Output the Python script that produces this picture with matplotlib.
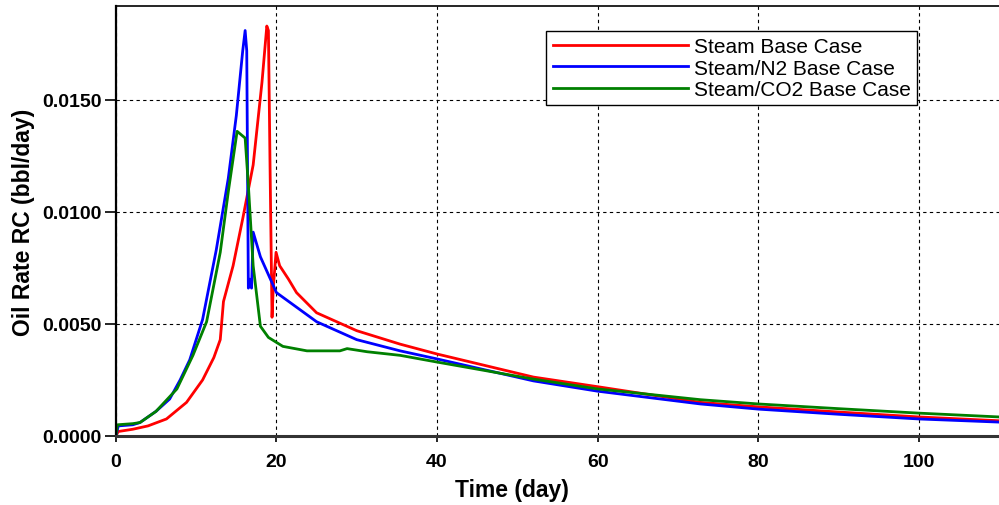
import matplotlib
matplotlib.use("Agg")
import matplotlib.pyplot as plt
from matplotlib.ticker import MultipleLocator, FormatStrFormatter

plt.rcParams["font.family"] = ["Liberation Sans", "DejaVu Sans"]

# oil rate curves, time in days
steam_t = [0, 0.3, 2.1, 4.0, 6.3, 8.8, 10.8, 12.2, 13.0, 13.4, 14.6, 15.8, 17.1, 18.2, 18.8,
           19.0, 19.2, 19.45, 19.6, 19.95, 20.4, 21.5, 22.5, 25, 30, 35.4, 40, 52, 60, 72.8,
           80, 90, 100, 110]
steam_q = [0.0, 0.0002, 0.0003, 0.00045, 0.00076, 0.0015, 0.0025, 0.0035, 0.0043, 0.006,
           0.0076, 0.0097, 0.0121, 0.0158, 0.0183, 0.0181, 0.0121, 0.0053, 0.0066, 0.0082,
           0.0076, 0.0070, 0.0064, 0.0055, 0.0047, 0.0041, 0.00366, 0.00263, 0.0022, 0.0015,
           0.0013, 0.00107, 0.00085, 0.00068]

n2_t = [0, 0.3, 2.1, 3.0, 5.0, 6.7, 8.0, 9.2, 10.8, 12.5, 14.0, 15.0, 15.8, 16.1, 16.3,
        16.5, 16.7, 16.9, 17.1, 18.0, 20.0, 25, 30, 35.4, 40, 52, 60, 72.8, 80, 90, 100, 110]
n2_q = [0.0, 0.00045, 0.0005, 0.0006, 0.0011, 0.00165, 0.0025, 0.0034, 0.0052, 0.0083,
        0.0115, 0.0143, 0.0172, 0.0181, 0.0172, 0.0066, 0.0070, 0.0066, 0.0091, 0.0080,
        0.0064, 0.0051, 0.0043, 0.0038, 0.00344, 0.00246, 0.0020, 0.00143, 0.0012, 0.00097,
        0.00076, 0.00062]

co2_t = [0, 0.2, 2.1, 3.0, 5.0, 7.6, 9.6, 11.3, 13.0, 14.0, 15.1, 16.1, 16.5, 17.1, 18.0,
         19.0, 20.8, 23.8, 27.9, 28.8, 31.3, 35.4, 40, 52, 60, 72.8, 80, 90, 100, 110]
co2_q = [0.0, 0.0005, 0.00055, 0.0006, 0.0011, 0.0021, 0.0036, 0.0051, 0.0082, 0.0109,
         0.0136, 0.0133, 0.0112, 0.0076, 0.0049, 0.0044, 0.0040, 0.0038, 0.0038, 0.0039,
         0.00376, 0.0036, 0.0033, 0.00254, 0.0021, 0.00162, 0.00143, 0.00122, 0.00102,
         0.00085]

labels = ["Steam Base Case", "Steam/N2 Base Case", "Steam/CO2 Base Case"]

fig = plt.figure(figsize=(9.99, 5.06), dpi=100)
ax = fig.add_axes([0.116, 0.1364, 0.884, 0.850])

ax.plot(steam_t, steam_q, color="#ff0000", lw=2.0, label=labels[0])
ax.plot(n2_t, n2_q, color="#0000ff", lw=2.0, label=labels[1])
ax.plot(co2_t, co2_q, color="#008000", lw=2.0, label=labels[2])

ax.set_xlim(0, 110)
ax.set_ylim(0, 0.0192)
ax.xaxis.set_major_locator(MultipleLocator(20))
ax.yaxis.set_major_locator(MultipleLocator(0.005))
ax.yaxis.set_major_formatter(FormatStrFormatter("%.4f"))
ax.grid(True, color="black", linestyle=(0, (3, 3)), linewidth=0.8)

for lab in ax.get_xticklabels() + ax.get_yticklabels():
    lab.set_fontweight("bold")
ax.tick_params(axis="both", labelsize=14, direction="out", color="black")
ax.tick_params(axis="y", length=8, width=1.2, pad=2)
ax.tick_params(axis="x", length=4, width=1.2, pad=8)

ax.spines["left"].set_linewidth(1.6)
ax.spines["bottom"].set_linewidth(2.2)
ax.spines["bottom"].set_color("#333333")
ax.spines["top"].set_linewidth(1.2)
ax.spines["right"].set_visible(False)

ax.set_xlabel("Time (day)", fontsize=16.5, fontweight="bold")
ax.set_ylabel("Oil Rate RC (bbl/day)", fontsize=16.5, fontweight="bold")
ax.xaxis.set_label_coords(0.449, -0.098)
ax.yaxis.set_label_coords(-0.092, 0.5)

leg = ax.legend(loc="upper left", bbox_to_anchor=(0.4875, 0.942), fontsize=15,
                handlelength=6.5, handletextpad=0.3, labelspacing=0.12,
                borderpad=0.3, borderaxespad=0.0, fancybox=False, framealpha=1,
                edgecolor="black")
leg.get_frame().set_linewidth(1.0)

fig.savefig("out.png", dpi=100)
